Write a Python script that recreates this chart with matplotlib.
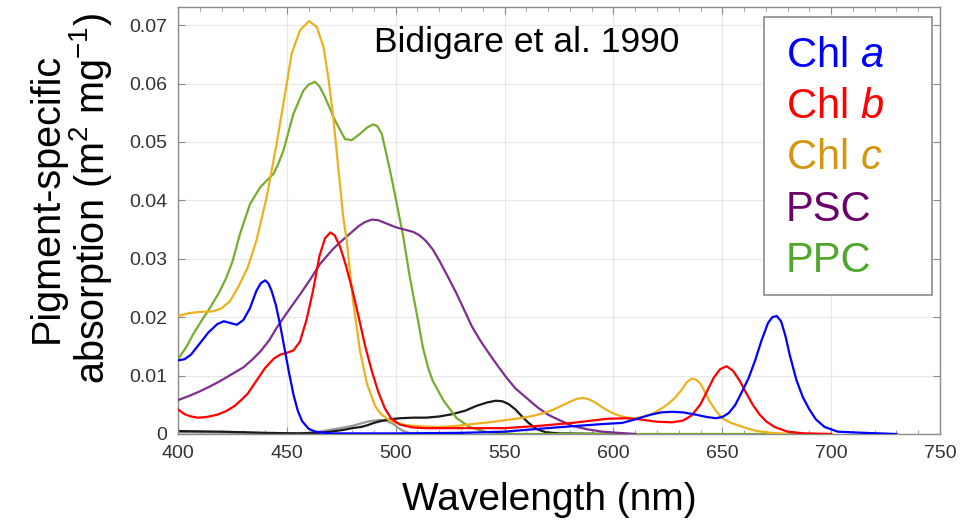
import matplotlib
matplotlib.use("Agg")
import matplotlib.pyplot as plt
from matplotlib.patches import Rectangle
from matplotlib.ticker import FixedLocator, MultipleLocator, FuncFormatter

plt.rcParams['font.family'] = ['Liberation Sans', 'DejaVu Sans']
plt.rcParams['mathtext.fontset'] = 'custom'
plt.rcParams['mathtext.rm'] = 'Liberation Sans'
plt.rcParams['mathtext.it'] = 'Liberation Sans:italic'

# ---- data ----
wl_chla = [400, 403, 406, 410, 414, 418, 421, 424, 427, 430, 433, 436, 438, 440, 441.5, 443, 445, 447, 449,
           451, 453, 455, 457, 460, 463, 470, 500, 530, 550, 566, 580, 595, 604, 610, 617, 622, 627, 632,
           638, 643, 647, 650, 653, 656, 659, 662, 665, 668, 671, 673, 675, 677, 679, 681, 684, 687, 690,
           693, 697, 703, 715, 730]
chla = [0.0126, 0.0128, 0.0136, 0.0155, 0.0174, 0.0188, 0.0193, 0.0190, 0.0187, 0.0195, 0.0215, 0.0245,
        0.0258, 0.0263, 0.0258, 0.0245, 0.0220, 0.0185, 0.0145, 0.0105, 0.0068, 0.0040, 0.0022, 0.0009,
        0.0004, 0.0001, 0.0001, 0.0002, 0.0004, 0.0009, 0.0013, 0.0017, 0.0019, 0.0025, 0.0033, 0.0037,
        0.0038, 0.0037, 0.0033, 0.0029, 0.0027, 0.0029, 0.0036, 0.0050, 0.0072, 0.0095, 0.0125, 0.0160,
        0.0190, 0.0200, 0.0202, 0.0193, 0.0168, 0.0135, 0.0093, 0.0063, 0.0042, 0.0025, 0.0012, 0.0004,
        0.0002, 0.0]

wl_chlb = [400, 403, 406, 409, 413, 418, 422, 426, 429, 432, 436, 440, 444, 447, 450, 453, 456, 459, 462,
           465, 467.5, 470, 472, 474.5, 477, 480, 483, 486, 489, 492, 495, 498, 502, 508, 514, 550, 566,
           581, 597, 606, 612, 620, 627, 632, 636, 640, 643, 646, 649, 652, 655, 658, 661, 664, 667, 670,
           674, 680, 688, 700]
chlb = [0.0042, 0.0034, 0.0030, 0.0028, 0.0029, 0.0033, 0.0039, 0.0048, 0.0058, 0.0069, 0.0091, 0.0113,
        0.0129, 0.0136, 0.0139, 0.0143, 0.0158, 0.0195, 0.0245, 0.0305, 0.0335, 0.0345, 0.0340, 0.0320,
        0.0290, 0.0248, 0.0200, 0.0150, 0.0108, 0.0072, 0.0044, 0.0026, 0.0016, 0.0011, 0.0010, 0.0010,
        0.0014, 0.0019, 0.0026, 0.0027, 0.0025, 0.0021, 0.0020, 0.0023, 0.0032, 0.0051, 0.0073, 0.0096,
        0.0111, 0.0116, 0.0108, 0.0091, 0.0070, 0.0050, 0.0034, 0.0022, 0.0012, 0.0004, 0.0001, 0.0]

wl_chlc = [400, 405, 410, 416, 420, 424, 428, 432, 436, 440.7, 445.3, 449.2, 452.2, 456, 460.2, 463.7,
           466.8, 469, 471.3, 473.6, 475.9, 477.5, 480.4, 483.6, 486.8, 490.5, 493, 496, 500, 505, 512,
           520, 528, 535, 543, 551, 557, 563, 568, 572, 576, 580, 583, 586, 589, 592, 596, 600, 604, 608,
           612, 617, 621, 625, 628, 631, 633.5, 636, 638, 640, 642, 644, 647, 650, 654, 658, 662, 666, 672,
           680]
chlc = [0.0202, 0.0207, 0.0209, 0.0210, 0.0215, 0.0228, 0.0254, 0.0285, 0.0331, 0.0405, 0.0497, 0.0583,
        0.0651, 0.0691, 0.0707, 0.0697, 0.0663, 0.0611, 0.0543, 0.0457, 0.0371, 0.0331, 0.0228, 0.0142,
        0.0086, 0.0048, 0.0035, 0.0026, 0.0019, 0.0015, 0.0013, 0.0012, 0.0014, 0.0017, 0.0020, 0.0024,
        0.0027, 0.0031, 0.0036, 0.0041, 0.0048, 0.0055, 0.0060, 0.0062, 0.0059, 0.0053, 0.0043, 0.0035,
        0.0030, 0.0027, 0.0028, 0.0033, 0.0041, 0.0051, 0.0061, 0.0074, 0.0088, 0.0095, 0.0093, 0.0086,
        0.0072, 0.0057, 0.0040, 0.0027, 0.0019, 0.0014, 0.0009, 0.0005, 0.0002, 0.0]

wl_psc = [400, 405, 410, 415, 420, 425, 430, 434, 438, 442, 445, 449, 453, 457, 461, 465, 468, 471, 475,
          479, 483, 486, 489, 492, 496, 500, 504, 508, 511, 514, 517, 520, 524, 528, 532, 535, 539, 543,
          547, 551, 555, 560, 565, 570, 575, 581, 588, 595, 602, 610]
psc = [0.0058, 0.0065, 0.0073, 0.0082, 0.0092, 0.0103, 0.0114, 0.0127, 0.0142, 0.0161, 0.0180, 0.0202,
       0.0223, 0.0244, 0.0266, 0.0290, 0.0303, 0.0316, 0.0330, 0.0343, 0.0356, 0.0363, 0.0367, 0.0366,
       0.0360, 0.0354, 0.0350, 0.0346, 0.0340, 0.0330, 0.0316, 0.0297, 0.0269, 0.0240, 0.0208, 0.0184,
       0.0159, 0.0137, 0.0116, 0.0096, 0.0078, 0.0062, 0.0046, 0.0033, 0.0024, 0.0014, 0.0008, 0.0004,
       0.0002, 0.0]

wl_ppc = [400, 404, 407, 411, 415, 419, 422, 425, 428.5, 433.1, 437.7, 441, 443.8, 446, 448.4, 453,
          457.6, 460, 462.9, 465, 467.5, 472.1, 476.7, 479.8, 483.6, 487, 489.7, 491.5, 493.6, 497.4,
          500.5, 503.5, 506.5, 510, 512.5, 515, 517, 522, 528, 534, 542, 555, 700]
ppc = [0.0128, 0.0150, 0.0171, 0.0195, 0.0218, 0.0243, 0.0266, 0.0295, 0.0343, 0.0394, 0.0422, 0.0435,
       0.0445, 0.0462, 0.0485, 0.0548, 0.0588, 0.0598, 0.0603, 0.0595, 0.0577, 0.0537, 0.0505, 0.0503,
       0.0514, 0.0525, 0.0530, 0.0527, 0.0514, 0.0451, 0.0394, 0.0337, 0.0268, 0.0199, 0.0148, 0.0112,
       0.0091, 0.0057, 0.0027, 0.0012, 0.0003, 0.0, 0.0]

wl_black = [400, 420, 440, 455, 465, 470, 476, 480, 484, 487, 490, 493, 497, 502, 508, 514, 520, 526, 532,
            537, 542, 546, 549, 552, 555, 558, 561, 565, 569, 575, 600]
black = [0.0005, 0.0004, 0.0002, 0.0001, 0.0002, 0.0004, 0.0007, 0.0010, 0.0012, 0.0015, 0.0019, 0.0022,
         0.0025, 0.0027, 0.0028, 0.0028, 0.0030, 0.0034, 0.0040, 0.0048, 0.0054, 0.0057, 0.0056, 0.0051,
         0.0042, 0.0030, 0.0019, 0.0008, 0.0003, 0.0001, 0.0]

wl_grey = [400, 430, 450, 460, 465, 471, 476, 480, 484, 487, 490, 493, 496, 499, 501, 503, 506, 510]
grey = [0.0003, 0.0002, 0.0001, 0.0002, 0.0004, 0.0008, 0.0011, 0.0014, 0.0018, 0.0021, 0.0023, 0.0024,
        0.0022, 0.0017, 0.0011, 0.0006, 0.0002, 0.0]

legend_labels = [r'Chl $\mathit{a}$', r'Chl $\mathit{b}$', r'Chl $\mathit{c}$', 'PSC', 'PPC']
x_ticks = [400, 450, 500, 550, 600, 650, 700, 750]
y_ticks = [0, 0.01, 0.02, 0.03, 0.04, 0.05, 0.06, 0.07]

# ---- styling ----
line_colors = ['#0000FF', '#FF0000', '#EDB120', '#7E2F8E', '#77AC30']
text_colors = ['#0000FF', '#FF0000', '#D4960F', '#6A006A', '#4FA82C']

fig = plt.figure(figsize=(9.63, 5.26), dpi=100)
ax = fig.add_axes([178 / 963, 1 - 434 / 526, 762 / 963, 427 / 526])

lw = 1.6
ax.plot(wl_grey, grey, color='#9a9a9a', lw=lw, zorder=2)
ax.plot(wl_black, black, color='#1a1a1a', lw=lw, zorder=2)
ax.plot(wl_ppc, ppc, color=line_colors[4], lw=lw, zorder=3)
ax.plot(wl_psc, psc, color=line_colors[3], lw=lw, zorder=3)
ax.plot(wl_chlc, chlc, color=line_colors[2], lw=lw, zorder=3)
ax.plot(wl_chlb, chlb, color=line_colors[1], lw=lw, zorder=4)
ax.plot(wl_chla, chla, color=line_colors[0], lw=lw, zorder=5)

ax.set_xlim(400, 750)
ax.set_ylim(0, 0.0731)
ax.xaxis.set_major_locator(FixedLocator(x_ticks))
ax.xaxis.set_minor_locator(MultipleLocator(10))
ax.yaxis.set_major_locator(FixedLocator(y_ticks))
ax.yaxis.set_major_formatter(FuncFormatter(lambda v, p: '0' if abs(v) < 1e-12 else f'{v:.2f}'))

ax.grid(True, which='major', color='#e8e8e8', lw=0.9, zorder=0)
ax.set_axisbelow(True)
for s in ax.spines.values():
    s.set_color('#8c8c8c')
    s.set_linewidth(1.0)
ax.tick_params(which='both', direction='in', top=True, right=True, color='#8c8c8c')
ax.tick_params(which='major', length=5, labelsize=14, labelcolor='#333333', pad=8)
ax.tick_params(which='minor', length=3)
ax.tick_params(axis='y', which='minor', left=False, right=False)

ax.set_xlabel('Wavelength (nm)', fontsize=28)
ax.xaxis.set_label_coords((549 - 178) / 762, -0.112)
ax.set_ylabel('Pigment-specific\nabsorption (m$^2$ mg$^{-1}$)', fontsize=28.5, va='center',
              linespacing=1.05)
ax.yaxis.set_label_coords((71 - 178) / 762, (434 - 198) / 427)

ax.text(0.457, 0.918, 'Bidigare et al. 1990', transform=ax.transAxes, fontsize=25.5,
        ha='center', va='center', color='black')

# legend box with coloured labels (no line handles in the reference)
ax.add_patch(Rectangle((0.769, 0.3255), 0.2205, 0.651, transform=ax.transAxes, facecolor='white',
                       edgecolor='#8c8c8c', lw=1.2, zorder=6))
for i, (lab, c) in enumerate(zip(legend_labels, text_colors)):
    ax.text(0.798, 0.8595 - i * 0.1199, lab, transform=ax.transAxes, fontsize=30, color=c,
            ha='left', va='baseline', zorder=7)

fig.savefig('out.png', dpi=100)
